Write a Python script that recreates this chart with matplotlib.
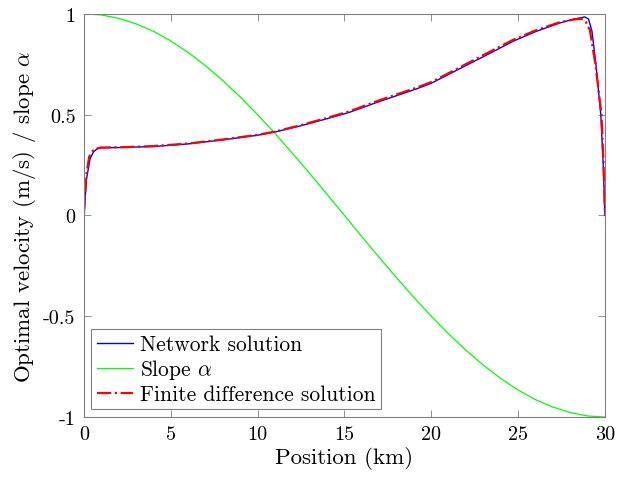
import matplotlib
matplotlib.use("Agg")
import numpy as np
from matplotlib import pyplot as plt

# values
pos_net = [0, 0.15, 0.35, 0.55, 0.75, 1.0, 2, 4, 6, 8, 10, 11, 12.4, 14, 15.3, 17,
           19.15, 20, 21, 22.2, 23.5, 24.7, 26, 27.4, 28.2, 28.84, 29.05, 29.25,
           29.48, 29.76, 29.9, 30]
vel_net = [0, 0.18, 0.28, 0.315, 0.33, 0.336, 0.337, 0.342, 0.355, 0.375, 0.398, 0.414,
           0.443, 0.48, 0.512, 0.565, 0.628, 0.656, 0.70, 0.753, 0.81, 0.864, 0.912,
           0.955, 0.974, 0.985, 0.975, 0.915, 0.75, 0.5, 0.25, 0]

pos_fd = [0, 0.12, 0.3, 0.5, 0.7, 1.0, 2, 4, 6, 8, 10, 11, 12.4, 14, 15.3, 17,
          19.15, 20, 21, 22.2, 23.5, 24.7, 26, 27.4, 28.2, 28.65, 28.9, 29.13,
          29.45, 29.8, 29.92, 30]
vel_fd = [0, 0.19, 0.29, 0.32, 0.332, 0.337, 0.338, 0.344, 0.357, 0.377, 0.40, 0.416,
          0.446, 0.484, 0.517, 0.571, 0.634, 0.662, 0.706, 0.76, 0.818, 0.871, 0.918,
          0.959, 0.972, 0.976, 0.96, 0.92, 0.75, 0.5, 0.25, 0]

pos_slope = list(range(0, 31))
slope = [1.0, 0.995, 0.978, 0.951, 0.914, 0.866, 0.809, 0.743, 0.669, 0.588, 0.5,
         0.407, 0.309, 0.208, 0.105, 0.0, -0.105, -0.208, -0.309, -0.407, -0.5,
         -0.588, -0.669, -0.743, -0.809, -0.866, -0.914, -0.951, -0.978, -0.995, -1.0]

xticks = [0, 5, 10, 15, 20, 25, 30]
yticks = [-1, -0.5, 0, 0.5, 1]
ytick_labels = ['-1', '-0.5', '0', '0.5', '1']

plt.rcParams['font.family'] = 'cmr10'
plt.rcParams['mathtext.fontset'] = 'cm'
plt.rcParams['axes.unicode_minus'] = False

fig = plt.figure(figsize=(6.17, 4.81), dpi=100)
ax = fig.add_axes([0.136, 0.131, 0.8445, 0.838])

ax.plot(pos_net, vel_net, color='#0000ff', lw=1.0, label='Network solution')
ax.plot(pos_slope, slope, color='#00ff00', lw=0.9, label=r'Slope $\alpha$')
ax.plot(pos_fd, vel_fd, color='#ff0000', lw=1.6, ls='-.', label='Finite difference solution')

ax.set_xlim(0, 30)
ax.set_ylim(-1, 1)
ax.set_xticks(xticks)
ax.set_xticklabels([str(t) for t in xticks])
ax.set_yticks(yticks)
ax.set_yticklabels(ytick_labels)
ax.tick_params(direction='in', top=True, right=True, length=5, width=0.6,
               color='#808080', labelsize=14.5, pad=6)
for s in ax.spines.values():
    s.set_color('#808080')
    s.set_linewidth(0.8)

ax.set_xlabel('Position (km)', fontsize=16.5, labelpad=2)
ax.set_ylabel(r'Optimal velocity (m/s) / slope $\alpha$', fontsize=16.5, labelpad=4)

leg = ax.legend(loc='lower left', fontsize=15.5, fancybox=False, framealpha=1,
                handlelength=1.7, handletextpad=0.3, borderpad=0.25, labelspacing=0.15,
                borderaxespad=0.35)
leg.get_frame().set_edgecolor('#808080')
leg.get_frame().set_linewidth(0.8)

fig.savefig('out.png', dpi=100)
